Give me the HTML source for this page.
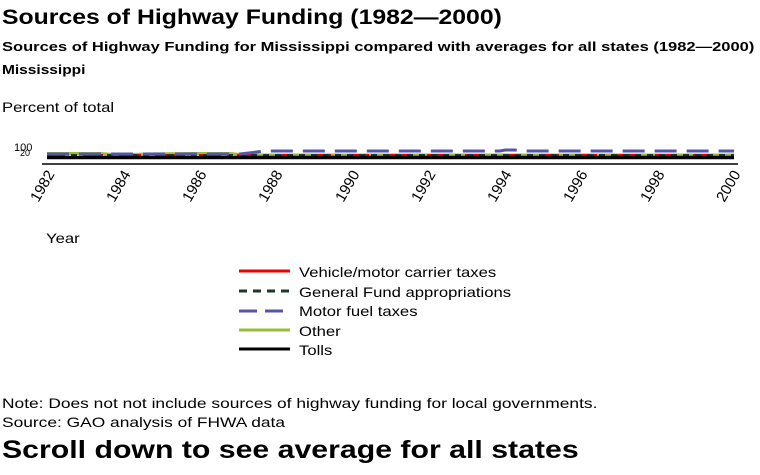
<!DOCTYPE html>
<html><head><style>
body{margin:0;width:760px;height:475px;background:#fff;font-family:"Liberation Sans",sans-serif;position:relative;overflow:hidden}
.t{position:absolute;white-space:nowrap;color:#000;transform-origin:0 0}
</style></head><body>
<div class="t" style="left:2px;top:6px;font-size:21px;font-weight:bold;transform:scaleX(1.18)">Sources of Highway Funding (1982&#8212;2000)</div>
<div class="t" style="left:2px;top:39px;font-size:13px;font-weight:bold;transform:scaleX(1.27)">Sources of Highway Funding for Mississippi compared with averages for all states (1982&#8212;2000)</div>
<div class="t" style="left:2px;top:62px;font-size:13px;font-weight:bold;transform:scaleX(1.19)">Mississippi</div>
<div class="t" style="left:2px;top:99px;font-size:14px;transform:scaleX(1.19)">Percent of total</div>
<div class="t" style="left:14px;top:143px;font-size:11px;line-height:11px">100</div>
<div class="t" style="left:20px;top:149px;font-size:9px;line-height:9px">20</div>
<svg width="760" height="475" style="position:absolute;left:0;top:0">
<line x1="42" y1="164" x2="738" y2="164" stroke="#000" stroke-width="1.5"/>
<polyline points="47,153.5 100,153.5 120,155 145,154 190,153.5 230,153.5 245,155 734,155" fill="none" stroke="#9bbb3b" stroke-width="3"/>
<polyline points="47,155 734,155" fill="none" stroke="#e00" stroke-width="2" stroke-dasharray="18,20"/>
<polyline points="47,155 734,155" fill="none" stroke="#1a3a2a" stroke-width="2" stroke-dasharray="6,6"/>
<polyline points="47,154 240,154 265,151 500,151 505,150 515,150 520,151 734,151" fill="none" stroke="#5555aa" stroke-width="3" stroke-dasharray="22,10"/>
<line x1="47" y1="157.5" x2="734" y2="157.5" stroke="#000" stroke-width="3.5"/>
<g font-size="15" text-anchor="end">
<text transform="translate(55,174) rotate(-60)">1982</text>
<text transform="translate(131,174) rotate(-60)">1984</text>
<text transform="translate(207,174) rotate(-60)">1986</text>
<text transform="translate(283,174) rotate(-60)">1988</text>
<text transform="translate(360,174) rotate(-60)">1990</text>
<text transform="translate(436,174) rotate(-60)">1992</text>
<text transform="translate(512,174) rotate(-60)">1994</text>
<text transform="translate(588,174) rotate(-60)">1996</text>
<text transform="translate(665,174) rotate(-60)">1998</text>
<text transform="translate(741,174) rotate(-60)">2000</text>
</g>
<line x1="239" y1="271" x2="290" y2="271" stroke="#e00" stroke-width="3"/>
<line x1="239" y1="291" x2="290" y2="291" stroke="#1a3a2a" stroke-width="3" stroke-dasharray="8,6"/>
<line x1="239" y1="311" x2="290" y2="311" stroke="#5555aa" stroke-width="3" stroke-dasharray="18,8"/>
<line x1="239" y1="330" x2="290" y2="330" stroke="#9bbb3b" stroke-width="3"/>
<line x1="239" y1="349" x2="290" y2="349" stroke="#000" stroke-width="3"/>
</svg>
<div class="t" style="left:46px;top:230px;font-size:14px;transform:scaleX(1.19)">Year</div>
<div class="t" style="left:299px;top:263px;font-size:14px;line-height:19.6px;transform:scaleX(1.19)">Vehicle/motor carrier taxes<br>General Fund appropriations<br>Motor fuel taxes<br>Other<br>Tolls</div>
<div class="t" style="left:2px;top:394px;font-size:14px;line-height:19px;transform:scaleX(1.24)">Note: Does not not include sources of highway funding for local governments.<br>Source: GAO analysis of FHWA data</div>
<div class="t" style="left:2px;top:436px;font-size:25px;font-weight:bold;transform:scaleX(1.21)">Scroll down to see average for all states</div>
</body></html>
